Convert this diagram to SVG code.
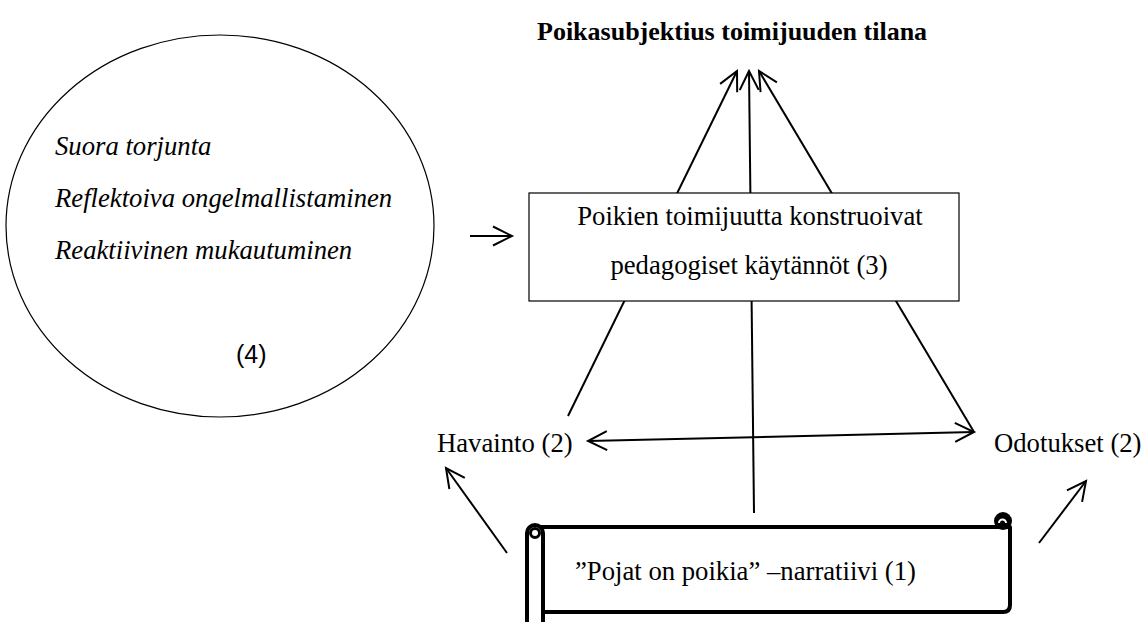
<svg xmlns="http://www.w3.org/2000/svg" width="1143" height="622" viewBox="0 0 1143 622">
<style>
.t{font-family:"Liberation Serif","Times New Roman",serif;font-size:26.7px;fill:#000}
.i{font-style:italic}
.b{font-weight:bold;font-size:26px}
.s{font-family:"Liberation Sans",Arial,sans-serif;font-size:25px;fill:#000}
.ln{stroke:#000;stroke-width:2;fill:none}
.sc{stroke:#000;stroke-width:4;fill:#fff;stroke-linejoin:round}
</style>
<defs>
<marker id="ah" viewBox="-22 -12 26 24" refX="0" refY="0" markerWidth="26" markerHeight="24" markerUnits="userSpaceOnUse" orient="auto-start-reverse">
<path d="M -19 -9.5 L 0 0 L -19 9.5" fill="none" stroke="#000" stroke-width="2"/>
</marker>
</defs>
<rect width="1143" height="622" fill="#fff"/>
<text class="t b" x="537" y="40">Poikasubjektius toimijuuden tilana</text>

<g id="connectors">
<line class="ln" x1="568" y1="416" x2="737" y2="71" marker-end="url(#ah)"/>
<line class="ln" x1="754" y1="513" x2="749" y2="71" marker-end="url(#ah)"/>
<line class="ln" x1="974" y1="432" x2="759" y2="71" marker-end="url(#ah)"/>
<line class="ln" x1="588" y1="441" x2="974" y2="432" marker-start="url(#ah)" marker-end="url(#ah)"/>
<line class="ln" x1="470" y1="236" x2="512" y2="236" marker-end="url(#ah)"/>
<line class="ln" x1="507" y1="553" x2="446" y2="468" marker-end="url(#ah)"/>
<line class="ln" x1="1039" y1="543" x2="1086" y2="481" marker-end="url(#ah)"/>
</g>

<g id="ellipse">
<ellipse cx="220" cy="226" rx="214" ry="191" fill="none" stroke="#000" stroke-width="1.2"/>
<text class="t i" x="55" y="155">Suora torjunta</text>
<text class="t i" x="55" y="207">Reflektoiva ongelmallistaminen</text>
<text class="t i" x="55" y="259">Reaktiivinen mukautuminen</text>
<text class="s" x="236" y="363">(4)</text>
</g>

<g id="box">
<rect x="529" y="193" width="430" height="108" fill="#fff" stroke="#000" stroke-width="1.2"/>
<text class="t" x="750" y="225" text-anchor="middle">Poikien toimijuutta konstruoivat</text>
<text class="t" x="749" y="274" text-anchor="middle">pedagogiset käytännöt (3)</text>
</g>

<g id="havainto">
<text class="t" x="437" y="452">Havainto (2)</text>
</g>
<g id="odotukset">
<text class="t" x="994" y="452">Odotukset (2)</text>
</g>

<g id="scroll">
<path class="sc" d="M 535 527 H 1003 V 527 L 1010 527 V 605 Q 1010 612 1003 612 H 543"/>
<rect class="sc" x="527" y="525" width="16" height="110" rx="8"/>
<circle cx="535" cy="533" r="4.5" fill="none" stroke="#000" stroke-width="3"/>
<circle cx="1003" cy="521" r="9" fill="#000"/>
<path d="M 999 523 A 3.5 3.5 0 1 1 1006 523" fill="none" stroke="#fff" stroke-width="2"/>
<text class="t" x="575" y="580">”Pojat on poikia” –narratiivi (1)</text>
</g>
</svg>
